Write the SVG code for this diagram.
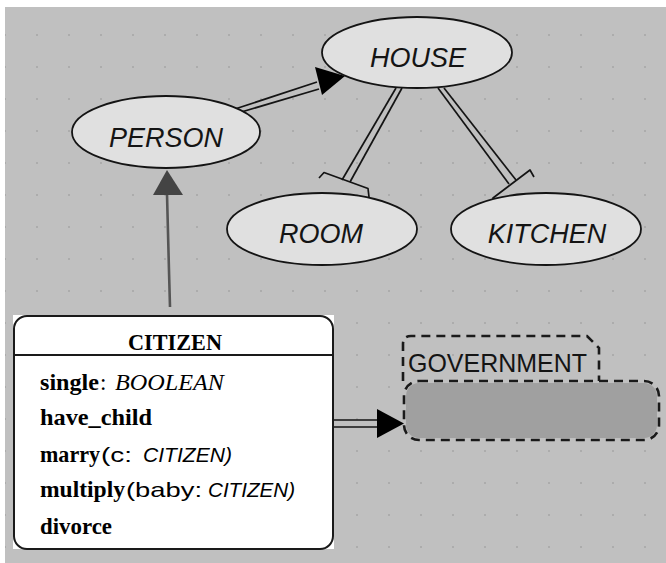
<svg xmlns="http://www.w3.org/2000/svg" width="666" height="563" viewBox="0 0 666 563">
  <style>
    .bubble { fill: #e0e0e0; stroke: #141414; stroke-width: 1.8; }
    .bubble-label { font-family: "Liberation Sans", Arial, sans-serif; font-style: italic; font-size: 27px; fill: #141414; text-anchor: middle; }
    .rail { fill: none; stroke: #141414; stroke-width: 1.7; }
    .brace { fill: none; stroke: #141414; stroke-width: 1.7; stroke-linejoin: round; }
    .head { fill: #000; }
    .inherit { fill: none; stroke: #555; stroke-width: 2.6; }
    .inherit-head { fill: #444; }
    .cls-box { fill: #fff; }
    .cls-frame { fill: none; stroke: #1a1a1a; stroke-width: 2; }
    .serif { font-family: "Liberation Serif", "Times New Roman", serif; font-size: 23px; fill: #000; }
    .sans { font-family: "Liberation Sans", Arial, sans-serif; font-size: 21px; fill: #000; }
    .b { font-weight: bold; }
    .i { font-style: italic; }
    .dash { fill: none; stroke: #1a1a1a; stroke-width: 2.6; stroke-dasharray: 9 6; }
    .cluster-label { font-family: "Liberation Sans", Arial, sans-serif; font-size: 25px; fill: #141414; }
  </style>
  <defs>
    <pattern id="grid" x="4" y="2" width="32" height="32" patternUnits="userSpaceOnUse">
      <rect x="0" y="0" width="2" height="2" fill="#acacac"/>
    </pattern>
  </defs>

  <!-- canvas -->
  <rect x="0" y="0" width="666" height="563" fill="#fff"/>
  <rect x="5" y="7" width="661" height="556" fill="#c0c0c0"/>
  <rect x="5" y="7" width="661" height="556" fill="url(#grid)"/>

  <!-- relations -->
  <g id="connectors">
    <!-- PERSON client of HOUSE -->
    <g id="person-house">
      <line class="rail" x1="235" y1="109" x2="317" y2="82"/>
      <line class="rail" x1="238" y1="113" x2="319" y2="89"/>
      <polygon class="head" points="315,67 322,95 345,76"/>
    </g>
    <!-- HOUSE aggregates ROOM -->
    <g id="house-room">
      <line class="rail" x1="396" y1="88" x2="342" y2="180"/>
      <line class="rail" x1="402" y1="88" x2="350" y2="182"/>
      <polyline class="brace" points="319,178 324,172.5 368,188.5 369,197"/>
    </g>
    <!-- HOUSE aggregates KITCHEN -->
    <g id="house-kitchen">
      <line class="rail" x1="438" y1="88" x2="509" y2="184"/>
      <line class="rail" x1="444" y1="88" x2="516" y2="180"/>
      <polyline class="brace" points="495,206 493,198 530,170 534,177"/>
    </g>
    <!-- CITIZEN inherits PERSON -->
    <g id="citizen-person">
      <polyline class="inherit" points="170,307 169,271 167,194"/>
      <polygon class="inherit-head" points="167,170 153,195 183,195"/>
    </g>
    <!-- CITIZEN client of GOVERNMENT -->
    <g id="citizen-government">
      <line class="rail" x1="334" y1="420" x2="378" y2="420"/>
      <line class="rail" x1="334" y1="427" x2="378" y2="427"/>
      <polygon class="head" points="377,409 377,438 404,423.5"/>
    </g>
  </g>

  <g id="house">
    <ellipse class="bubble" cx="417" cy="52.5" rx="95" ry="35.5"/>
    <text class="bubble-label" x="418" y="67">HOUSE</text>
  </g>

  <g id="person">
    <ellipse class="bubble" cx="166" cy="132" rx="94" ry="36"/>
    <text class="bubble-label" x="166" y="147">PERSON</text>
  </g>

  <g id="room">
    <ellipse class="bubble" cx="322" cy="229" rx="95" ry="36"/>
    <text class="bubble-label" x="321" y="243">ROOM</text>
  </g>

  <g id="kitchen">
    <ellipse class="bubble" cx="546" cy="229" rx="95" ry="36"/>
    <text class="bubble-label" x="547" y="243">KITCHEN</text>
  </g>

  <g id="citizen">
    <rect class="cls-box" x="13" y="315" width="321" height="234"/>
    <rect class="cls-frame" x="14" y="316" width="319" height="233" rx="13" ry="13"/>
    <line class="cls-frame" x1="14" y1="355" x2="333" y2="355"/>
    <text class="serif b" x="128" y="350" textLength="94" lengthAdjust="spacingAndGlyphs">CITIZEN</text>
    <!-- feature list -->
    <text class="serif b" x="40" y="390" textLength="59" lengthAdjust="spacingAndGlyphs">single</text>
    <text class="serif" x="100" y="390">:</text>
    <text class="serif i" x="115" y="390" textLength="109" lengthAdjust="spacingAndGlyphs">BOOLEAN</text>
    <text class="serif b" x="40" y="425" textLength="112" lengthAdjust="spacingAndGlyphs">have_child</text>
    <text class="serif b" x="40" y="462" textLength="60" lengthAdjust="spacingAndGlyphs">marry</text>
    <text class="sans" x="101" y="462" textLength="31" lengthAdjust="spacingAndGlyphs">(c:</text>
    <text class="sans i" x="143" y="462" textLength="89" lengthAdjust="spacingAndGlyphs">CITIZEN)</text>
    <text class="serif b" x="40" y="497" textLength="85" lengthAdjust="spacingAndGlyphs">multiply</text>
    <text class="sans" x="126" y="497" textLength="76" lengthAdjust="spacingAndGlyphs">(baby:</text>
    <text class="sans i" x="208" y="497" textLength="87" lengthAdjust="spacingAndGlyphs">CITIZEN)</text>
    <text class="serif b" x="40" y="534" textLength="72" lengthAdjust="spacingAndGlyphs">divorce</text>
  </g>

  <g id="government">
    <path class="dash" d="M403,381 V344 Q403,336 411,336 H587 L599,348 V381"/>
    <text class="cluster-label" x="408" y="372" textLength="179" lengthAdjust="spacingAndGlyphs">GOVERNMENT</text>
    <rect x="406" y="383" width="251" height="55" rx="13" ry="13" fill="#a0a0a0"/>
    <rect class="dash" x="404" y="381" width="255" height="59" rx="15" ry="15"/>
  </g>
</svg>
